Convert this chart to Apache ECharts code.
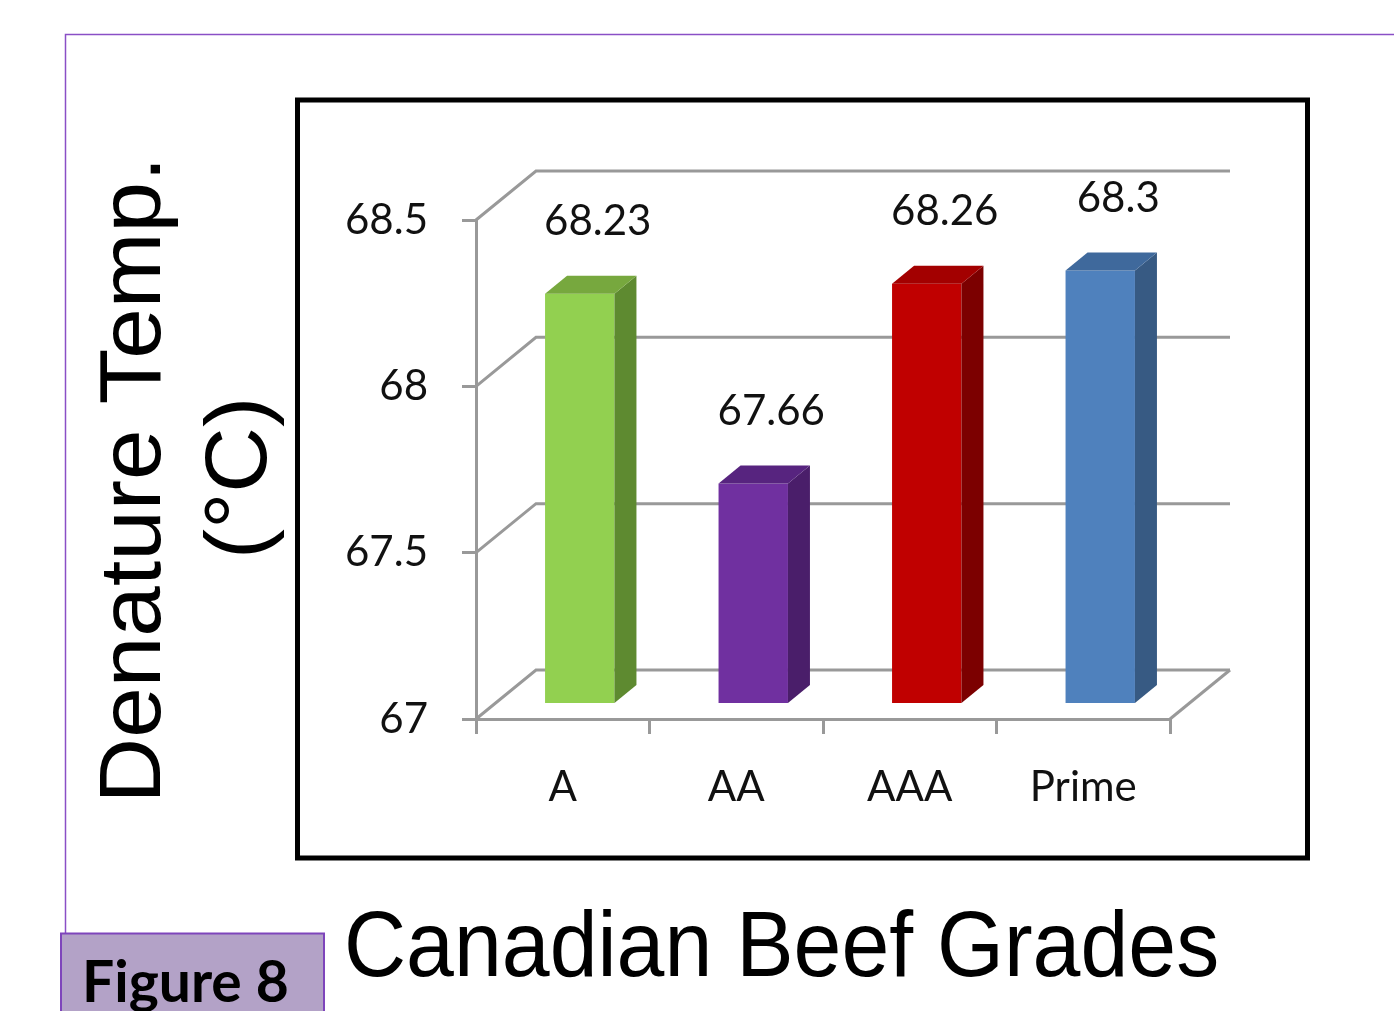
<!DOCTYPE html>
<html>
<head>
<meta charset="utf-8">
<title>Canadian Beef Grades</title>
<script src="https://cdn.jsdelivr.net/npm/echarts@6/dist/echarts.min.js"></script>
<style>
  html, body { margin: 0; padding: 0; background: #fff; }
  #main { width: 1394px; height: 1011px; }
</style>
</head>
<body>
<div id="main"></div>
<script>
// data
var grades = ['A', 'AA', 'AAA', 'Prime'];
var denatureTemp = [68.23, 67.66, 68.26, 68.3];
var tempTicks = [67, 67.5, 68, 68.5];

// looks
var barColors = [
  { front: '#92d050', top: '#77a83e', side: '#5e8a30' },
  { front: '#7030a0', top: '#57247f', side: '#4a1e6a' },
  { front: '#c00000', top: '#a30000', side: '#7c0000' },
  { front: '#4f81bd', top: '#3f699c', side: '#375a83' }
];
var gridColor = '#999999';
var DX = 60, DY = -49;            // depth of the floor / walls
var BAR_DX = 22, BAR_DY = -18;    // depth of one bar
var BAR_SHIFT_X = 17, BAR_SHIFT_Y = -16;
var labelFont = '42px Lato';

var myChart = echarts.init(document.getElementById('main'));

// back wall gridlines + floor, drawn from the y ticks
function renderWall(params, api) {
  var cs = params.coordSys;
  var v = api.value(1);
  var y = api.coord([0, v])[1];
  var x0 = cs.x, x1 = cs.x + cs.width;
  var children = [{
    type: 'polyline',
    shape: { points: [[x0, y], [x0 + DX, y + DY], [x1 + DX, y + DY]] },
    style: { stroke: gridColor, lineWidth: 3, fill: null }
  }];
  if (v === tempTicks[0]) {
    children.push({
      type: 'line',
      shape: { x1: x1, y1: y, x2: x1 + DX, y2: y + DY },
      style: { stroke: gridColor, lineWidth: 3 }
    });
  }
  return { type: 'group', children: children };
}

function renderBar(params, api) {
  var i = api.value(0), v = api.value(1);
  var band = api.size([1, 0])[0];
  var w = band * 0.4;
  var base = api.coord([i, tempTicks[0]]);
  var top = api.coord([i, v]);
  var cx = base[0] + BAR_SHIFT_X;
  var L = cx - w / 2, R = cx + w / 2;
  var B = base[1] + BAR_SHIFT_Y, T = top[1] + BAR_SHIFT_Y;
  var c = barColors[i];
  return {
    type: 'group',
    children: [
      { type: 'rect', shape: { x: L, y: T, width: w, height: B - T }, style: { fill: c.front } },
      { type: 'polygon', shape: { points: [[R, T], [R + BAR_DX, T + BAR_DY], [R + BAR_DX, B + BAR_DY], [R, B]] },
        style: { fill: c.side } },
      { type: 'polygon', shape: { points: [[L, T], [R, T], [R + BAR_DX, T + BAR_DY], [L + BAR_DX, T + BAR_DY]] },
        style: { fill: c.top } },
      { type: 'text', style: { text: String(v), x: cx + 18, y: T + BAR_DY - 54,
        align: 'center', verticalAlign: 'middle', font: labelFont, fill: '#111' } }
    ]
  };
}

var option = {
  animation: false,
  grid: { left: 476, top: 220, width: 694, height: 499 },
  xAxis: {
    type: 'category',
    data: grades,
    axisLine: { lineStyle: { color: gridColor, width: 3 } },
    axisTick: { show: true, length: 15, lineStyle: { color: gridColor, width: 3 } },
    axisLabel: { margin: 47, color: '#111', fontFamily: 'Lato', fontSize: 42 }
  },
  yAxis: {
    type: 'value',
    min: 67,
    max: 68.5,
    interval: 0.5,
    axisLine: { show: true, lineStyle: { color: gridColor, width: 3 } },
    axisTick: { show: true, length: 14, lineStyle: { color: gridColor, width: 3 } },
    axisLabel: { margin: 48, color: '#111', fontFamily: 'Lato', fontSize: 42 },
    splitLine: { show: false }
  },
  graphic: [
    { type: 'polyline', silent: true,
      shape: { points: [[1394, 34.5], [65.5, 34.5], [65.5, 933]] },
      style: { stroke: '#8a4fc6', lineWidth: 1.5, fill: null } },
    { type: 'rect', silent: true,
      shape: { x: 297.5, y: 100, width: 1010, height: 758 },
      style: { stroke: '#000', lineWidth: 5, fill: null } },
    { type: 'text', silent: true, x: 344, y: 950, scaleX: 0.925,
      style: { text: 'Canadian Beef Grades', font: '93px "Liberation Sans"', fill: '#000',
        align: 'left', verticalAlign: 'middle' } },
    { type: 'text', silent: true, x: 136, y: 480, rotation: Math.PI / 2, scaleX: 1.045,
      style: { text: 'Denature Temp.', font: '87px "Liberation Sans"', fill: '#000',
        align: 'center', verticalAlign: 'middle' } },
    { type: 'text', silent: true, x: 242, y: 478, rotation: Math.PI / 2, scaleX: 1.045,
      style: { text: '(°C)', font: '87px "Liberation Sans"', fill: '#000',
        align: 'center', verticalAlign: 'middle' } },
    { type: 'rect', silent: true,
      shape: { x: 61, y: 933.5, width: 263, height: 100 },
      style: { fill: '#b3a2c7', stroke: '#7e45bb', lineWidth: 2 } },
    { type: 'text', silent: true, x: 82, y: 984,
      style: { text: 'Figure 8', font: 'bold 57px Lato', fill: '#000',
        align: 'left', verticalAlign: 'middle' } }
  ],
  series: [
    {
      type: 'custom',
      silent: true,
      z: 1,
      renderItem: renderWall,
      encode: { x: 0, y: 1 },
      data: tempTicks.map(function (v) { return [0, v]; })
    },
    {
      type: 'custom',
      silent: true,
      z: 3,
      renderItem: renderBar,
      encode: { x: 0, y: 1 },
      data: denatureTemp.map(function (v, i) { return [i, v]; })
    }
  ]
};

myChart.setOption(option);
</script>
</body>
</html>
